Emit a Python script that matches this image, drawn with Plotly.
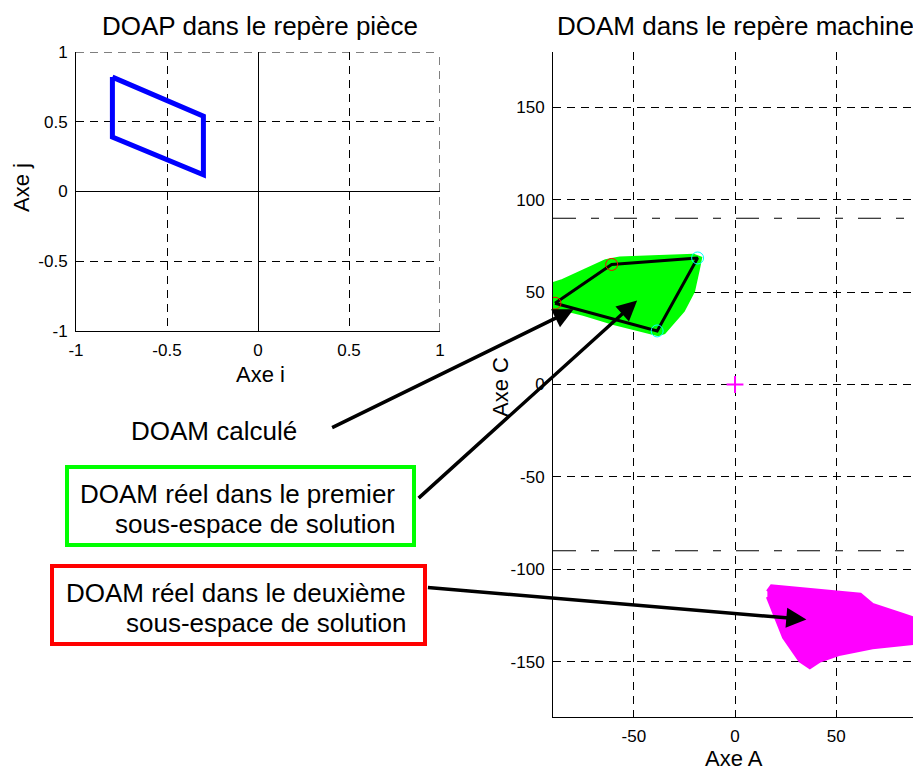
import plotly.graph_objects as go

W, H = 913, 770
FONT = "Liberation Sans, Arial, sans-serif"

# --- DOAP dans le repère pièce ---
doap_i = [-0.8, -0.3, -0.3, -0.8, -0.8]
doap_j = [0.82, 0.54, 0.12, 0.39, 0.82]
i_ticks = [-1, -0.5, 0, 0.5, 1]
i_labels = ["-1", "-0.5", "0", "0.5", "1"]
j_ticks = [-1, -0.5, 0, 0.5, 1]
j_labels = ["-1", "-0.5", "0", "0.5", "1"]

# --- DOAM dans le repère machine ---
# DOAM calculé (polygone noir) et ses sommets
calc_a = [-89, -61, -18.5, -38.5, -89]
calc_c = [44, 65, 68.5, 29, 44]
calc_red_a = [-89, -61]
calc_red_c = [44, 65]
calc_cyan_a = [-18.5, -38.5]
calc_cyan_c = [68.5, 29]

# DOAM réel, premier sous-espace de solution (vert)
sol1_a = [-92, -86, -64, -57, -20.5, -17, -18, -20.5, -25.5, -35, -38, -60, -75, -86, -92]
sol1_c = [54, 56, 67, 68.5, 70, 68.5, 63, 50.5, 40, 28, 27, 33, 38, 41, 41]

# DOAM réel, deuxième sous-espace de solution (magenta)
sol2_a = [16, 18, 62, 68, 83, 90, 90, 68, 52, 42, 37, 32, 24, 19, 16]
sol2_c = [-112, -109, -113.5, -119, -124.5, -127, -140, -142.5, -146, -149.7, -153.3, -149.7, -137, -122.7, -115]

origin_a = [0]
origin_c = [0]
limits_c = [90, -90]

a_ticks = [-50, 0, 50]
a_labels = ["-50", "0", "50"]
c_ticks = [-150, -100, -50, 0, 50, 100, 150]
c_labels = ["-150", "-100", "-50", "0", "50", "100", "150"]


def px(x):
    return x / W


def py(y):
    return 1 - y / H


fig = go.Figure()

fig.add_trace(go.Scatter(
    x=doap_i, y=doap_j, mode="lines", xaxis="x", yaxis="y",
    line=dict(color="#0000ff", width=5),
))
fig.add_trace(go.Scatter(
    x=sol1_a, y=sol1_c, mode="lines", fill="toself", fillcolor="#00ff00",
    line=dict(color="#00ff00", width=3), xaxis="x2", yaxis="y2",
))
fig.add_trace(go.Scatter(
    x=sol2_a, y=sol2_c, mode="lines", fill="toself", fillcolor="#ff00ff",
    line=dict(color="#ff00ff", width=3), xaxis="x2", yaxis="y2",
))
fig.add_trace(go.Scatter(
    x=calc_a, y=calc_c, mode="lines", xaxis="x2", yaxis="y2",
    line=dict(color="black", width=3),
))
fig.add_trace(go.Scatter(
    x=calc_red_a, y=calc_red_c, mode="markers", xaxis="x2", yaxis="y2",
    marker=dict(symbol="circle-open", size=12, color="#ff0000", line=dict(width=1)),
))
fig.add_trace(go.Scatter(
    x=calc_cyan_a, y=calc_cyan_c, mode="markers", xaxis="x2", yaxis="y2",
    marker=dict(symbol="circle-open", size=12, color="#00ffff", line=dict(width=1)),
))
fig.add_trace(go.Scatter(
    x=origin_a, y=origin_c, mode="markers", xaxis="x2", yaxis="y2",
    marker=dict(symbol="cross-thin", size=12, color="#ff00ff",
                line=dict(color="#ff00ff", width=2)),
))

tickfont = dict(family=FONT, size=17, color="black")
common = dict(
    showgrid=True, gridcolor="black", gridwidth=1, griddash="8px,6px",
    showline=True, linecolor="black", linewidth=1, ticks="",
    tickfont=tickfont, ticklabelstandoff=4, fixedrange=True, automargin=False,
)

fig.update_layout(
    template="none",
    width=W, height=H,
    margin=dict(l=0, r=0, t=0, b=0, pad=0, autoexpand=False),
    paper_bgcolor="white", plot_bgcolor="white",
    showlegend=False,
    font=dict(family=FONT, color="black"),
    xaxis=dict(domain=[px(76), px(440)], range=[-1, 1], anchor="y",
               tickvals=i_ticks, ticktext=i_labels,
               zeroline=True, zerolinecolor="black", zerolinewidth=1, **common),
    yaxis=dict(domain=[py(331), py(52)], range=[-1, 1], anchor="x",
               tickvals=j_ticks, ticktext=j_labels,
               zeroline=True, zerolinecolor="black", zerolinewidth=1, **common),
    xaxis2=dict(domain=[px(553), 1.0], range=[-90, 88], anchor="y2",
                tickvals=a_ticks, ticktext=a_labels, zeroline=False, **common),
    yaxis2=dict(domain=[py(717), py(52)], range=[-180, 180], anchor="x2",
                tickvals=c_ticks, ticktext=c_labels, zeroline=False, **common),
)

# quadrillage sur les bords haut et droit du repère pièce
grid_line = dict(color="black", width=1, dash="8px,6px")
fig.add_shape(type="line", xref="x", yref="y domain", x0=i_ticks[-1], x1=i_ticks[-1],
              y0=0, y1=1, line=grid_line)
fig.add_shape(type="line", xref="x domain", yref="y", x0=0, x1=1,
              y0=j_ticks[-1], y1=j_ticks[-1], line=grid_line)

# limites de l'axe C (+/- 90)
for c in limits_c:
    fig.add_shape(type="line", xref="x2 domain", yref="y2", x0=0, x1=1, y0=c, y1=c,
                  line=dict(color="black", width=1, dash="23px,15px,8px,15px"))

# cadres des légendes
fig.add_shape(type="rect", xref="paper", yref="paper",
              x0=px(67), x1=px(414), y0=py(467), y1=py(545),
              line=dict(color="#00ff00", width=4))
fig.add_shape(type="rect", xref="paper", yref="paper",
              x0=px(52), x1=px(425), y0=py(566), y1=py(644),
              line=dict(color="#ff0000", width=4))


def label(text, x, y, size, xanchor="center", angle=0):
    fig.add_annotation(text=text, xref="paper", yref="paper", x=px(x), y=py(y),
                       xanchor=xanchor, yanchor="middle", showarrow=False,
                       textangle=angle, font=dict(family=FONT, size=size, color="black"))


label("DOAP dans le repère pièce", 260, 26, 26)
label("DOAM dans le repère machine", 735, 26, 26)
label("Axe i", 260, 374, 22)
label("Axe j", 22, 188, 22, angle=-90)
label("Axe A", 734, 758, 22)
label("Axe C", 500, 387, 22, angle=-90)
label("DOAM calculé", 214, 431, 26)
label("DOAM réel dans le premier", 397, 494, 26, xanchor="right")
label("sous-espace de solution", 397, 524, 26, xanchor="right")
label("DOAM réel dans le deuxième", 408, 593, 26, xanchor="right")
label("sous-espace de solution", 408, 623, 26, xanchor="right")

# flèches (pointe en coordonnées machine, queue en décalage pixels)
arrows = [(-79.8, 40.7, -243, 119), (-48.4, 45.5, -220, 199), (35.3, -127.2, -380, -32)]
for xa, yc, ax, ay in arrows:
    fig.add_annotation(x=xa, y=yc, xref="x2", yref="y2", ax=ax, ay=ay,
                       axref="pixel", ayref="pixel", text="", showarrow=True,
                       arrowhead=2, arrowsize=1.15, arrowwidth=3.5, arrowcolor="black",
                       standoff=0)

# la figure occupe toute la fenêtre : pas de marge de page, pas de barre d'outils
fig.write_html("out.html", config={"displayModeBar": False},
               post_script="document.body.style.margin='0';document.body.style.overflow='hidden';")
